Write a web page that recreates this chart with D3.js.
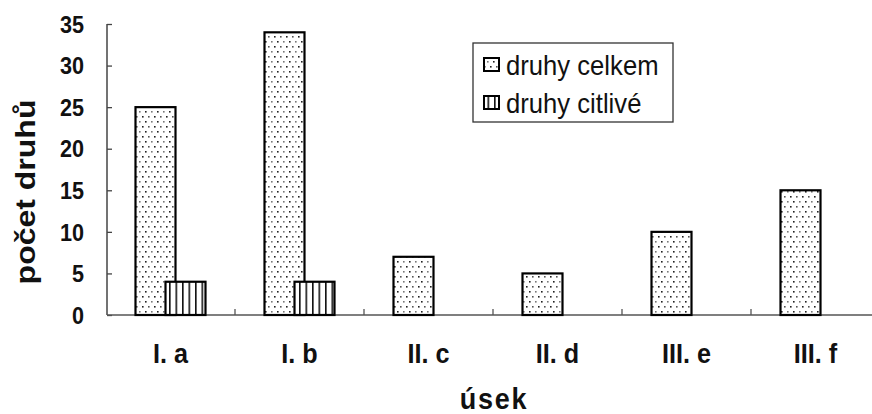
<!DOCTYPE html>
<html>
<head>
<meta charset="utf-8">
<script src="https://cdn.jsdelivr.net/npm/d3@7"></script>
<style>
  html, body { margin: 0; padding: 0; background: #fff; }
  svg { display: block; }
  text { font-family: "Liberation Sans", Arial, sans-serif; fill: #111; }
</style>
</head>
<body>
<svg id="chart" width="872" height="414"></svg>
<script>
// ---- data ----
const categories = ["I. a", "I. b", "II. c", "II. d", "III. e", "III. f"];
const seriesNames = ["druhy celkem", "druhy citlivé"];
const druhyCelkem = [25, 34, 7, 5, 10, 15];
const druhyCitlive = [4, 4, 0, 0, 0, 0];
const yTicks = [0, 5, 10, 15, 20, 25, 30, 35];
const yTitle = "počet druhů";
const xTitle = "úsek";

const svg = d3.select("#chart");
const W = 872, H = 414;
const mLeft = 107, mRight = 880, mTop = 24, mBottom = 315;

// patterns
const defs = svg.append("defs");
const dots = defs.append("pattern").attr("id", "dots")
  .attr("patternUnits", "userSpaceOnUse").attr("width", 12).attr("height", 10);
dots.append("rect").attr("width", 12).attr("height", 10).attr("fill", "#fff");
[[1,1,"#222"],[7,1,"#777"],[4,6,"#555"],[10,6,"#222"]].forEach(([px,py,c]) => {
  dots.append("rect").attr("x", px).attr("y", py).attr("width", 1.6).attr("height", 1.6).attr("fill", c);
});
const stripes = defs.append("pattern").attr("id", "stripes")
  .attr("patternUnits", "userSpaceOnUse").attr("width", 6.5).attr("height", 10);
stripes.append("rect").attr("width", 6.5).attr("height", 10).attr("fill", "#fff");
stripes.append("rect").attr("x", 0).attr("width", 1.6).attr("height", 10).attr("fill", "#111");

const x = d3.scaleBand().domain(categories).range([mLeft - 1, mRight]).paddingInner(0).paddingOuter(0);
const xs = d3.scalePoint().domain(seriesNames).range([-15, 15]);
const y = d3.scaleLinear().domain([0, 35]).range([mBottom, mTop]);
const barW = 40;
const fills = {"druhy celkem": "url(#dots)", "druhy citlivé": "url(#stripes)"};

// axes
const yAxis = d3.axisRight(y).tickValues(yTicks).tickSize(5).tickFormat("");
const gy = svg.append("g").attr("transform", `translate(${mLeft},0)`).call(yAxis);
gy.select(".domain").remove();
gy.selectAll(".tick line").attr("stroke", "#444").attr("stroke-width", 1.3);
svg.append("line").attr("x1", mLeft).attr("x2", mLeft).attr("y1", y(35)).attr("y2", y(0))
  .attr("stroke", "#444").attr("stroke-width", 1.5);

// y tick labels (slightly condensed, like the scanned original)
svg.append("g").selectAll("text").data(yTicks).join("text")
  .attr("transform", d => `translate(84,${y(d)}) scale(0.9,1)`)
  .attr("dy", "0.36em")
  .attr("text-anchor", "end").attr("font-size", 24).attr("font-weight", "bold")
  .text(d => d);

// x axis line & ticks
svg.append("line").attr("x1", mLeft).attr("x2", W).attr("y1", mBottom).attr("y2", mBottom)
  .attr("stroke", "#555").attr("stroke-width", 1.5);
svg.append("g").selectAll("line").data(categories.slice(1)).join("line")
  .attr("x1", d => x(d)).attr("x2", d => x(d))
  .attr("y1", mBottom).attr("y2", mBottom - 6)
  .attr("stroke", "#555").attr("stroke-width", 1.3);

// bars
const rows = categories.map((c, i) => ({c, vals: [druhyCelkem[i], druhyCitlive[i]]}));
seriesNames.forEach((s, si) => {
  svg.append("g").selectAll("rect")
    .data(rows.filter(r => r.vals[si] > 0)).join("rect")
    .attr("x", r => x(r.c) + x.bandwidth() / 2 + xs(s) - barW / 2)
    .attr("y", r => y(r.vals[si]))
    .attr("width", barW)
    .attr("height", r => y(0) - y(r.vals[si]))
    .attr("fill", fills[s]).attr("stroke", "#000").attr("stroke-width", 2.2);
});

// x tick labels
svg.append("g").selectAll("text").data(categories).join("text")
  .attr("transform", d => `translate(${x(d) + x.bandwidth() / 2},363) scale(0.9,1)`)
  .attr("text-anchor", "middle").attr("font-size", 28).attr("font-weight", "bold")
  .text(d => d);

// titles
svg.append("text").attr("transform", "translate(494,409) scale(0.9,1)")
  .attr("text-anchor", "middle")
  .attr("font-size", 30).attr("font-weight", "bold").attr("letter-spacing", 2)
  .text(xTitle);
svg.append("text").attr("transform", "translate(35,192) rotate(-90) scale(1,0.87)")
  .attr("text-anchor", "middle").attr("font-size", 32).attr("font-weight", "bold")
  .text(yTitle);

// legend
const lg = svg.append("g");
lg.append("rect").attr("x", 473).attr("y", 43).attr("width", 200).attr("height", 79)
  .attr("fill", "#fff").attr("stroke", "#333").attr("stroke-width", 1.3);
seriesNames.forEach((s, i) => {
  const by = 75 + i * 38;
  lg.append("rect").attr("x", 484).attr("y", by - 17).attr("width", 15).attr("height", 13)
    .attr("fill", fills[s]).attr("stroke", "#000").attr("stroke-width", 2);
  lg.append("text").attr("transform", `translate(506,${by}) scale(0.95,1)`)
    .attr("font-size", 27).text(s);
});
</script>
</body>
</html>
